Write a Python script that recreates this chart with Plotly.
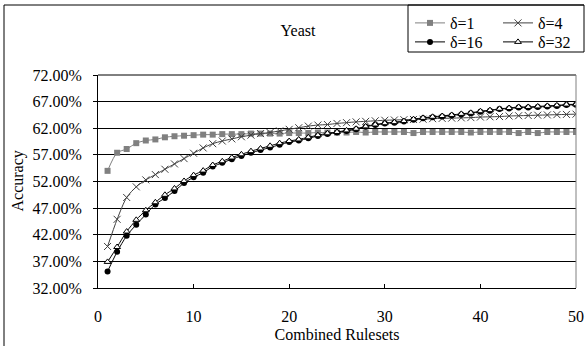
import plotly.graph_objects as go

# Number of combined rulesets
rulesets = list(range(1, 51))

# Accuracy (%) for each delta setting
acc_d1 = [54.0, 57.4, 58.1, 59.2, 59.7, 59.9, 60.3, 60.5, 60.6, 60.7,
          60.8, 60.8, 60.9, 60.9, 60.9, 61.0, 61.0, 61.0, 61.0, 61.1,
          61.1, 61.1, 61.2, 61.2, 61.2, 61.2, 61.3, 61.2, 61.3, 61.3,
          61.3, 61.3, 61.1, 61.3, 61.3, 61.3, 61.3, 61.3, 61.2, 61.3,
          61.3, 61.3, 61.3, 61.1, 61.3, 61.1, 61.3, 61.3, 61.3, 61.3]
acc_d4 = [39.8, 44.9, 49.0, 51.0, 52.3, 53.3, 54.3, 55.3, 56.3, 57.3,
          58.3, 59.1, 59.6, 60.0, 60.4, 60.7, 61.0, 61.2, 61.5, 61.8,
          62.1, 62.4, 62.6, 62.7, 62.9, 63.05, 63.2, 63.3, 63.4, 63.5,
          63.55, 63.6, 63.65, 63.7, 63.8, 63.85, 63.9, 63.95, 64.0, 64.1,
          64.15, 64.2, 64.3, 64.35, 64.4, 64.45, 64.5, 64.55, 64.6, 64.65]
acc_d16 = [35.1, 38.8, 41.8, 43.9, 45.8, 47.7, 48.9, 50.2, 51.7, 52.8,
           53.65, 54.8, 55.5, 56.2, 56.8, 57.4, 57.9, 58.4, 58.9, 59.4,
           59.7, 60.1, 60.55, 60.9, 61.2, 61.5, 61.8, 62.3, 62.6, 62.9,
           63.05, 63.25, 63.6, 63.9, 64.05, 64.2, 64.4, 64.6, 64.8, 65.1,
           65.3, 65.6, 65.7, 65.9, 65.9, 66.0, 66.1, 66.2, 66.35, 66.4]
acc_d32 = [36.9, 39.7, 42.6, 44.8, 46.6, 48.1, 49.5, 50.7, 52.1, 53.2,
           54.05, 55.1, 55.8, 56.5, 57.1, 57.7, 58.2, 58.7, 59.2, 59.6,
           59.9, 60.3, 60.7, 61.05, 61.3, 61.6, 61.9, 62.35, 62.7, 62.95,
           63.15, 63.35, 63.7, 63.95, 64.15, 64.3, 64.5, 64.7, 64.9, 65.2,
           65.4, 65.65, 65.8, 66.0, 66.0, 66.1, 66.2, 66.3, 66.45, 66.5]

series_names = ["δ=1", "δ=4", "δ=16", "δ=32"]

W, H = 587, 346
ML, MR, MT, MB = 98, 11, 75, 58
PW, PH = W - ML - MR, H - MT - MB

FONT = "Liberation Serif, Times New Roman, serif"


def px_x(px):
    return (px - ML) / PW


def px_y(py):
    return (H - MB - py) / PH


fig = go.Figure()

fig.add_trace(go.Scatter(
    x=rulesets, y=acc_d1, name=series_names[0], mode="lines+markers",
    line=dict(color="#808080", width=1, shape="spline", smoothing=0.8),
    marker=dict(symbol="square", size=6, color="#808080"),
    legend="legend"))
fig.add_trace(go.Scatter(
    x=rulesets, y=acc_d4, name=series_names[1], mode="lines+markers",
    line=dict(color="#404040", width=1, shape="spline", smoothing=0.8),
    marker=dict(symbol="x-thin", size=7, color="#404040",
                line=dict(color="#404040", width=1)),
    legend="legend"))
fig.add_trace(go.Scatter(
    x=rulesets, y=acc_d16, name=series_names[2], mode="lines+markers",
    line=dict(color="#000000", width=1, shape="spline", smoothing=0.8),
    marker=dict(symbol="circle", size=6, color="#000000"),
    legend="legend2"))
fig.add_trace(go.Scatter(
    x=rulesets, y=acc_d32, name=series_names[3], mode="lines+markers",
    line=dict(color="#000000", width=1, shape="spline", smoothing=0.8),
    marker=dict(symbol="triangle-up", size=6, color="#ffffff",
                line=dict(color="#000000", width=1)),
    legend="legend2"))

legend_common = dict(
    orientation="h", xanchor="left", yanchor="middle",
    bgcolor="rgba(0,0,0,0)", borderwidth=0,
    font=dict(family=FONT, size=16, color="#000000"),
    entrywidth=43, itemwidth=30,
)

fig.update_layout(
    width=W, height=H,
    margin=dict(l=ML, r=MR, t=MT, b=MB, autoexpand=False),
    paper_bgcolor="#ffffff", plot_bgcolor="#ffffff",
    font=dict(family=FONT, size=16, color="#000000"),
    title=dict(text="Yeast", x=298 / W, xref="container", xanchor="center",
               y=1 - 30 / H, yref="container", yanchor="middle",
               font=dict(family=FONT, size=16, color="#000000")),
    legend=dict(x=px_x(410), y=px_y(23), **legend_common),
    legend2=dict(x=px_x(410), y=px_y(42), **legend_common),
    xaxis=dict(
        range=[0, 50], dtick=10, tick0=0,
        showgrid=False, zeroline=False,
        showline=True, linecolor="#000000", linewidth=1,
        ticks="inside", ticklen=4, tickcolor="#000000",
        ticklabelstandoff=14,
        tickfont=dict(family=FONT, size=16),
        title=dict(text="Combined Rulesets", standoff=4,
                   font=dict(family=FONT, size=16)),
    ),
    yaxis=dict(
        range=[32, 72], dtick=5, tick0=32,
        tickformat=".2f", ticksuffix="%",
        showgrid=True, gridcolor="#000000", gridwidth=1,
        zeroline=False,
        showline=True, linecolor="#000000", linewidth=1,
        ticks="outside", ticklen=4, tickcolor="#000000",
        ticklabelstandoff=8,
        tickfont=dict(family=FONT, size=16),
    ),
    showlegend=True,
)

# Y-axis title
fig.add_annotation(text="Accuracy", x=px_x(17), y=0.5, xref="paper", yref="paper",
                   textangle=-90, showarrow=False, xanchor="center", yanchor="middle",
                   font=dict(family=FONT, size=16, color="#000000"))

# Plot-area top and right edges
fig.add_shape(type="line", xref="paper", yref="paper", x0=0, x1=1, y0=1, y1=1,
              line=dict(color="#000000", width=1))
fig.add_shape(type="line", xref="paper", yref="paper", x0=1, x1=1, y0=0, y1=1,
              line=dict(color="#808080", width=1))

# Legend box
fig.add_shape(type="rect", xref="paper", yref="paper",
              x0=px_x(408), x1=px_x(584), y0=px_y(52), y1=px_y(5),
              line=dict(color="#000000", width=1), fillcolor="rgba(0,0,0,0)")

# Chart frame (left and top edges)
fig.add_shape(type="line", xref="paper", yref="paper",
              x0=px_x(4), x1=px_x(584), y0=px_y(5), y1=px_y(5),
              line=dict(color="#000000", width=1))
fig.add_shape(type="line", xref="paper", yref="paper",
              x0=px_x(4), x1=px_x(4), y0=px_y(5), y1=px_y(346),
              line=dict(color="#000000", width=1))

fig.write_html("out.html")
